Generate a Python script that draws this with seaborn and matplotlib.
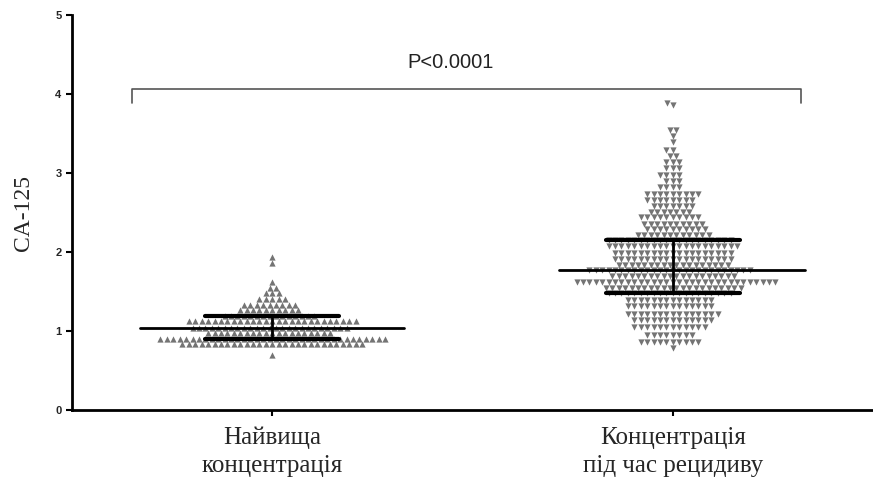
import numpy as np
import pandas as pd
import matplotlib
matplotlib.use("Agg")
import matplotlib.pyplot as plt
from matplotlib.markers import MarkerStyle
from matplotlib.transforms import Affine2D
import seaborn as sns

# Categories on the x axis
groups = ["Найвища\nконцентрація", "Концентрація\nпід час рецидиву"]

# CA-125 levels and number of patients recorded at each level
levels_peak = [0.70, 0.83, 0.90, 0.97, 1.04, 1.12, 1.19, 1.26, 1.33, 1.40,
               1.48, 1.55, 1.62, 1.86, 1.94]
counts_peak = [1, 29, 36, 20, 25, 27, 15, 10, 9, 5,
               3, 2, 1, 1, 1]

levels_relapse = [0.78, 0.86, 0.95, 1.05, 1.14, 1.22, 1.31, 1.39, 1.48, 1.55,
                  1.62, 1.69, 1.77, 1.84, 1.91, 1.99, 2.07, 2.15, 2.22, 2.29,
                  2.36, 2.44, 2.51, 2.58, 2.66, 2.74, 2.82, 2.90, 2.98, 3.06,
                  3.14, 3.21, 3.29, 3.39, 3.47, 3.54, 3.86, 3.89]
counts_relapse = [1, 10, 8, 12, 13, 15, 14, 14, 20, 22,
                  32, 20, 26, 18, 19, 19, 21, 20, 12, 10,
                  10, 10, 7, 7, 8, 9, 4, 3, 4, 3,
                  3, 2, 2, 1, 1, 2, 1, 1]

# Median and interquartile range per group
medians = [1.04, 1.77]
q1 = [0.90, 1.48]
q3 = [1.19, 2.15]

p_text = "P<0.0001"

df_peak = pd.DataFrame({"group": groups[0],
                        "value": np.repeat(levels_peak, counts_peak)})
df_relapse = pd.DataFrame({"group": groups[1],
                           "value": np.repeat(levels_relapse, counts_relapse)})

sns.set_style("white")
fig = plt.figure(figsize=(8.73, 4.88), dpi=100)
ax = fig.add_axes([0.0825, 0.16, 0.9175, 0.809])

dot_color = "#747474"
tri_up = MarkerStyle("^", transform=Affine2D().scale(1.02))
tri_down = MarkerStyle("v", transform=Affine2D().scale(1.02))
sns.swarmplot(data=df_peak, x="group", y="value", order=groups, marker=tri_up,
              color=dot_color, size=4.4, linewidth=0, ax=ax)
sns.swarmplot(data=df_relapse, x="group", y="value", order=groups,
              marker=tri_down, color=dot_color, size=4.4, linewidth=0, ax=ax)

# Median line, quartile bars and the vertical IQR segment
med_left = [0.33, 0.285]
med_right = [0.33, 0.33]
for i in range(2):
    ax.plot([i - med_left[i], i + med_right[i]], [medians[i]] * 2,
            color="black", lw=2, zorder=5)
    ax.plot([i - 0.167, i + 0.167], [q1[i]] * 2, color="black", lw=3, zorder=5)
    ax.plot([i - 0.167, i + 0.167], [q3[i]] * 2, color="black", lw=3, zorder=5)
    ax.plot([i, i], [q1[i], q3[i]], color="black", lw=2, zorder=5)

# Significance bracket
ax.plot([-0.35, -0.35, 1.32, 1.32], [3.89, 4.07, 4.07, 3.89],
        color="#555555", lw=1.2)
ax.text(0.445, 4.4, p_text, ha="center", va="center", fontsize=14.5,
        family="Liberation Sans", color="#222222")

ax.set_xlim(-0.5, 1.5)
ax.set_ylim(0, 5)
ax.set_yticks([0, 1, 2, 3, 4, 5])
ax.set_yticklabels(["0", "1", "2", "3", "4", "5"], fontsize=8,
                   fontweight="bold", family="Liberation Sans")
ax.set_xticks([0, 1])
ax.set_xticklabels(groups, fontsize=18, family="Liberation Serif",
                   linespacing=1.35)
ax.set_xlabel("")
ax.set_ylabel("CA-125", fontsize=17, family="Liberation Serif")
ax.yaxis.set_label_coords(-0.047, 0.5)

for side in ["top", "right"]:
    ax.spines[side].set_visible(False)
for side in ["left", "bottom"]:
    ax.spines[side].set_linewidth(2)
    ax.spines[side].set_color("black")
ax.tick_params(axis="both", direction="out", length=4, width=1.5,
               color="black", left=True, bottom=True)
ax.tick_params(axis="x", pad=8)

fig.savefig("out.png", dpi=100)
